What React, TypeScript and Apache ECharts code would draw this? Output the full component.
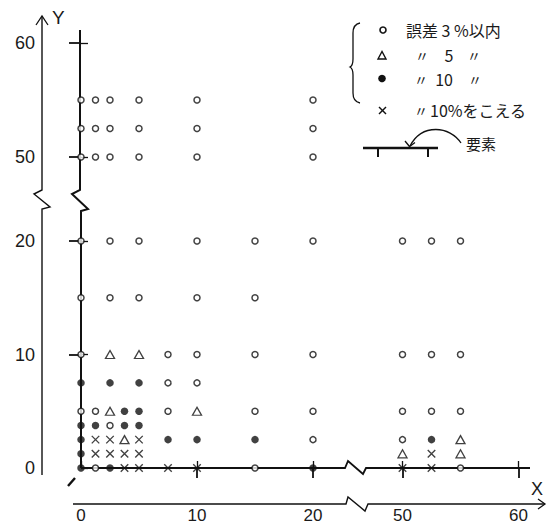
import React, { useEffect, useRef } from "react";
import * as echarts from "echarts";

// ---------- data ----------
const categoryNames = ["誤差3%以内", "誤差5%以内", "誤差10%以内", "誤差10%をこえる"];

// ○ error within 3 %
const within3: number[][] = [
  [0, 55], [1.25, 55], [2.5, 55], [5, 55], [10, 55], [20, 55],
  [0, 52.5], [1.25, 52.5], [2.5, 52.5], [5, 52.5], [10, 52.5], [20, 52.5],
  [0, 50], [1.25, 50], [2.5, 50], [5, 50], [10, 50], [20, 50],
  [0, 20], [2.5, 20], [5, 20], [10, 20], [15, 20], [20, 20], [50, 20], [52.5, 20], [55, 20],
  [0, 15], [2.5, 15], [5, 15], [10, 15], [15, 15],
  [0, 10], [7.5, 10], [10, 10], [15, 10], [20, 10], [50, 10], [52.5, 10], [55, 10],
  [7.5, 7.5], [10, 7.5],
  [0, 5], [1.25, 5], [7.5, 5], [15, 5], [20, 5], [50, 5], [52.5, 5], [55, 5],
  [2.5, 3.75],
  [20, 2.5], [50, 2.5],
  [1.25, 0], [15, 0], [55, 0],
];
// △ error within 5 %
const within5: number[][] = [
  [2.5, 10], [5, 10], [2.5, 5], [10, 5], [3.75, 2.5], [55, 2.5], [50, 1.25], [55, 1.25],
];
// ● error within 10 %
const within10: number[][] = [
  [0, 7.5], [2.5, 7.5], [5, 7.5],
  [3.75, 5], [5, 5],
  [0, 3.75], [1.25, 3.75], [3.75, 3.75], [5, 3.75],
  [0, 2.5], [7.5, 2.5], [10, 2.5], [15, 2.5], [52.5, 2.5],
  [0, 1.25],
  [0, 0], [2.5, 0], [20, 0],
];
// × error over 10 %
const over10: number[][] = [
  [1.25, 2.5], [2.5, 2.5], [5, 2.5],
  [1.25, 1.25], [2.5, 1.25], [3.75, 1.25], [5, 1.25], [52.5, 1.25],
  [3.75, 0], [5, 0], [7.5, 0], [10, 0], [50, 0], [52.5, 0],
];

const xTickLabelsLeft = [0, 10, 20];
const xTickLabelsRight = [50, 60];
const yTickLabelsLower = [0, 10, 20];
const yTickLabelsUpper = [50, 60];
const xInnerTicksLeft = [10, 20];
const xInnerTicksRight = [50, 60];
const yInnerTicksLower = [10, 20];
const yInnerTicksUpper = [50, 60];

// ---------- layout ----------
const INK = "#111";
const TEXT = "#1a1a1a";
const LATIN = "'Liberation Sans', Arial, sans-serif";
const CJK = "'Noto Sans CJK JP', sans-serif";

const XS = 11.6; // px per unit x
const YS0 = 11.35; // px per unit y (lower)
const YS1 = 11.4; // px per unit y (upper)

const G0 = { left: 81, top: 210, width: 264, height: 258 };
const G1 = { left: 81, top: 30, width: 264, height: 160 };
const G2 = { left: 366, top: 210, width: 164, height: 258 };
const OUT_Y = 42; // x of outer y axis
const OUT_X = 504; // y of outer x axis

const g0Bottom = G0.top + G0.height;
const g0Right = G0.left + G0.width;
const g1Bottom = G1.top + G1.height;
const g2Right = G2.left + G2.width;

const x0Max = G0.width / XS;
const y0Max = G0.height / YS0;
const y1Min = 50 - 33 / YS1;
const y1Max = y1Min + G1.height / YS1;
const x2Min = 50 - 36.5 / XS;
const x2Max = x2Min + G2.width / XS;

const BRACE_D =
  "M10,0 C5,1 3,4 3,10 L3,36 C3,41 2,43 0,44 C2,45 3,47 3,52 L3,70 C3,76 5,79 10,80";
echarts.graphic.registerShape("brace", echarts.graphic.extendPath(BRACE_D, {}));

function outerX(gridIndex: number, min: number, max: number, values: number[]) {
  return {
    type: "value", gridIndex, min, max, position: "bottom", offset: OUT_X - g0Bottom,
    axisLine: { show: false },
    axisTick: { show: true, inside: true, length: 7, customValues: values, lineStyle: { color: INK, width: 1.3 } },
    axisLabel: { show: true, customValues: values, margin: 3, fontSize: 17, lineHeight: 17, color: TEXT, fontFamily: LATIN },
    splitLine: { show: false },
  };
}
function innerX(gridIndex: number, min: number, max: number, values: number[]) {
  return {
    type: "value", gridIndex, min, max, position: "bottom", offset: 0,
    axisLine: { show: false },
    axisTick: { show: true, inside: false, length: 10, customValues: values, lineStyle: { color: INK, width: 1.8 } },
    axisLabel: { show: false },
    splitLine: { show: false },
  };
}
function outerY(gridIndex: number, min: number, max: number, values: number[]) {
  return {
    type: "value", gridIndex, min, max, position: "left", offset: G0.left - OUT_Y,
    axisLine: { show: false },
    axisTick: { show: true, inside: true, length: 7, customValues: values, lineStyle: { color: INK, width: 1.3 } },
    axisLabel: { show: true, customValues: values, margin: 7, fontSize: 18, color: TEXT, fontFamily: LATIN },
    splitLine: { show: false },
  };
}
function innerY(gridIndex: number, min: number, max: number, values: number[]) {
  return {
    type: "value", gridIndex, min, max, position: "left", offset: 0,
    axisLine: { show: false },
    axisTick: { show: true, inside: false, length: 12, customValues: values, lineStyle: { color: INK, width: 1.8 } },
    axisLabel: { show: false },
    splitLine: { show: false },
  };
}
function hidden(gridIndex: number, min: number, max: number) {
  return { type: "value", gridIndex, min, max, show: false, splitLine: { show: false } };
}

const symbolStyles = [
  { symbol: "circle", symbolSize: 6, itemStyle: { color: "#fff", borderColor: INK, borderWidth: 1.5 } },
  { symbol: "triangle", symbolSize: [9, 8], itemStyle: { color: "#fff", borderColor: INK, borderWidth: 1.3 } },
  { symbol: "circle", symbolSize: 7.5, itemStyle: { color: INK, borderWidth: 0 } },
  { symbol: "path://M0,0L10,10M10,0L0,10", symbolSize: 7.5, itemStyle: { color: "none", borderColor: INK, borderWidth: 1.4 } },
];

// axis index pairs per panel: lower-left, upper-left, lower-right
const panelAxes = [
  { xAxisIndex: 0, yAxisIndex: 0 },
  { xAxisIndex: 2, yAxisIndex: 2 },
  { xAxisIndex: 3, yAxisIndex: 4 },
];
const panelOf = (p: number[]) => (p[0] >= 40 ? 2 : p[1] >= 40 ? 1 : 0);

function buildSeries() {
  const all = [within3, within5, within10, over10];
  const out: any[] = [];
  all.forEach((pts, ci) => {
    [0, 1, 2].forEach((panel) => {
      const data = pts.filter((p) => panelOf(p) === panel);
      if (!data.length) return;
      out.push({
        type: "scatter",
        name: categoryNames[ci],
        ...panelAxes[panel],
        data,
        clip: false,
        silent: true,
        z: 3,
        ...symbolStyles[ci],
      });
    });
  });
  return out;
}

function line(points: number[][], lineWidth: number) {
  return { type: "polyline", silent: true, shape: { points }, style: { stroke: INK, lineWidth, fill: "none" } };
}
function txt(x: number, y: number, text: string, fontSize: number, fontFamily: string, align = "left") {
  return { type: "text", x, y, silent: true, style: { text, fontSize, fontFamily, fill: TEXT, align, verticalAlign: "middle" } };
}

function buildGraphic() {
  const yBreakLo = G0.top; // top of lower panels
  const yBreakHi = g1Bottom; // bottom of upper panel
  return [
    // outer y axis with break and arrow
    line([[OUT_Y, g0Bottom + 7], [OUT_Y, yBreakLo - 1], [OUT_Y + 8, yBreakLo - 3], [OUT_Y - 8, yBreakHi + 4], [OUT_Y, yBreakHi], [OUT_Y, 16]], 1.4),
    line([[OUT_Y - 6, 25], [OUT_Y, 16], [OUT_Y + 6, 25]], 1.3),
    txt(OUT_Y + 10, 17, "Y", 19, LATIN),
    // inner vertical frame line with break
    line([[G0.left, g0Bottom], [G0.left, yBreakLo + 1], [G0.left + 7, yBreakLo - 1], [G0.left - 9, yBreakHi + 4], [G0.left - 1, yBreakHi], [G0.left - 1, G1.top]], 2),
    // inner horizontal frame line with break
    line([[G0.left, g0Bottom], [g0Right, g0Bottom], [g0Right + 3, g0Bottom - 7], [g0Right + 18, g0Bottom + 6], [G2.left, g0Bottom], [g2Right, g0Bottom]], 1.8),
    // outer x axis with break and arrow
    line([[73, OUT_X], [g0Right + 1, OUT_X], [g0Right + 3, OUT_X - 7], [g0Right + 20, OUT_X + 7], [G2.left + 2, OUT_X], [545, OUT_X]], 1.4),
    line([[538, OUT_X - 5], [545, OUT_X], [538, OUT_X + 5]], 1.3),
    txt(531, 489, "X", 18, LATIN),
    // corner slash
    line([[68, 486], [75, 478]], 2.4),
    // legend
    { type: "brace", x: 350, y: 23, silent: true, style: { stroke: INK, lineWidth: 1.3, fill: "none" } },
    { type: "circle", silent: true, shape: { cx: 383, cy: 30, r: 3 }, style: { fill: "#fff", stroke: INK, lineWidth: 1.6 } },
    { type: "polygon", silent: true, shape: { points: [[382, 51.5], [378, 59], [386, 59]] }, style: { fill: "#fff", stroke: INK, lineWidth: 1.4 } },
    { type: "circle", silent: true, shape: { cx: 382, cy: 78.5, r: 3.8 }, style: { fill: INK } },
    line([[379, 107], [386, 114]], 1.4),
    line([[386, 107], [379, 114]], 1.4),
    txt(406, 30, "誤差 3 %以内", 16, CJK),
    txt(422, 55, "〃", 14, CJK, "center"),
    txt(449, 55, "5", 16, CJK, "center"),
    txt(474, 55, "〃", 14, CJK, "center"),
    txt(421, 79, "〃", 14, CJK, "center"),
    txt(444, 79, "10", 16, CJK, "center"),
    txt(475, 79, "〃", 14, CJK, "center"),
    txt(421, 110, "〃", 14, CJK, "center"),
    txt(430, 110, "10%をこえる", 16, CJK),
    // element sketch
    line([[363, 148], [438, 148]], 2.5),
    line([[378, 148], [378, 157]], 2),
    line([[428, 148], [428, 157]], 2),
    {
      type: "bezierCurve", silent: true,
      shape: { x1: 461, y1: 143, cpx1: 450, cpy1: 126, cpx2: 422, cpy2: 123, x2: 410, y2: 146 },
      style: { stroke: INK, lineWidth: 1.3, fill: "none" },
    },
    line([[405, 141], [409.5, 146.5], [415, 142.5]], 1.3),
    txt(466, 143, "要素", 15, CJK),
  ];
}

function buildOption() {
  return {
    animation: false,
    backgroundColor: "#fff",
    grid: [
      { ...G0, containLabel: false, outerBoundsMode: "none" },
      { ...G1, containLabel: false, outerBoundsMode: "none" },
      { ...G2, containLabel: false, outerBoundsMode: "none" },
    ],
    xAxis: [
      outerX(0, 0, x0Max, xTickLabelsLeft),
      innerX(0, 0, x0Max, xInnerTicksLeft),
      hidden(1, 0, x0Max),
      outerX(2, x2Min, x2Max, xTickLabelsRight),
      innerX(2, x2Min, x2Max, xInnerTicksRight),
    ],
    yAxis: [
      outerY(0, 0, y0Max, yTickLabelsLower),
      innerY(0, 0, y0Max, yInnerTicksLower),
      outerY(1, y1Min, y1Max, yTickLabelsUpper),
      innerY(1, y1Min, y1Max, yInnerTicksUpper),
      hidden(2, 0, y0Max),
    ],
    series: buildSeries(),
    graphic: buildGraphic(),
  };
}

export default function App() {
  const ref = useRef<HTMLDivElement>(null);
  useEffect(() => {
    if (!ref.current) return;
    const chart = echarts.init(ref.current, null, { renderer: "svg" });
    chart.setOption(buildOption() as any);
    return () => chart.dispose();
  }, []);
  return (
    <div
      ref={ref}
      style={{ position: "fixed", left: 0, top: 0, width: 549, height: 526, background: "#fff" }}
    />
  );
}
